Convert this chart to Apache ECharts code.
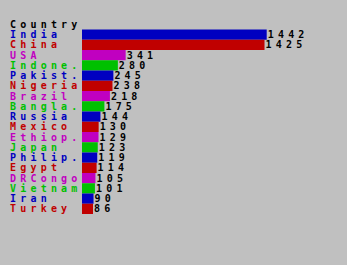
<!DOCTYPE html>
<html>
<head>
<meta charset="utf-8">
<script src="https://cdn.jsdelivr.net/npm/echarts@6/dist/echarts.min.js"></script>
<style>
html,body{margin:0;padding:0;background:#c0c0c0;}
#chart{width:347px;height:265px;}
#chart text{letter-spacing:4.2px;}
</style>
</head>
<body>
<div id="chart"></div>
<script>
const categories = ["India","China","USA","Indone.","Pakist.","Nigeria","Brazil","Bangla.","Russia","Mexico","Ethiop.","Japan","Philip.","Egypt","DRCongo","Vietnam","Iran","Turkey"];
const population = [1442,1425,341,280,245,238,218,175,144,130,129,123,119,114,105,101,90,86];
const axisTitle = "Country";
const palette = ["#0000c0","#c00000","#c000c0","#00c000"];

const FONT = "DejaVu Sans Mono";
const FS = 10;
const FW = 'bold';
const chart = echarts.init(document.getElementById('chart'), null, {renderer:'svg'});
chart.setOption({
  backgroundColor:'#c0c0c0',
  animation:false,
  title:{text:axisTitle,left:10,top:19,padding:0,
    textStyle:{fontFamily:FONT,fontSize:FS,lineHeight:FS,fontWeight:FW,color:'#000'}},
  grid:{left:82,right:80.3,top:29.5,bottom:51,containLabel:false},
  xAxis:{type:'value',min:0,max:1442,show:false},
  yAxis:{type:'category',data:categories,inverse:true,
    axisLine:{show:false},axisTick:{show:false},splitLine:{show:false},
    axisLabel:{interval:0,align:'left',margin:72,fontFamily:FONT,fontSize:FS,lineHeight:FS,fontWeight:FW,
      color:(v,i)=>palette[i%4]}},
  series:[{type:'bar',data:population,barCategoryGap:0,
    itemStyle:{color:p=>palette[p.dataIndex%4]},
    label:{show:true,position:'right',distance:1,fontFamily:FONT,fontSize:FS,lineHeight:FS,fontWeight:FW,color:'#000'}}]
});
</script>
</body>
</html>
